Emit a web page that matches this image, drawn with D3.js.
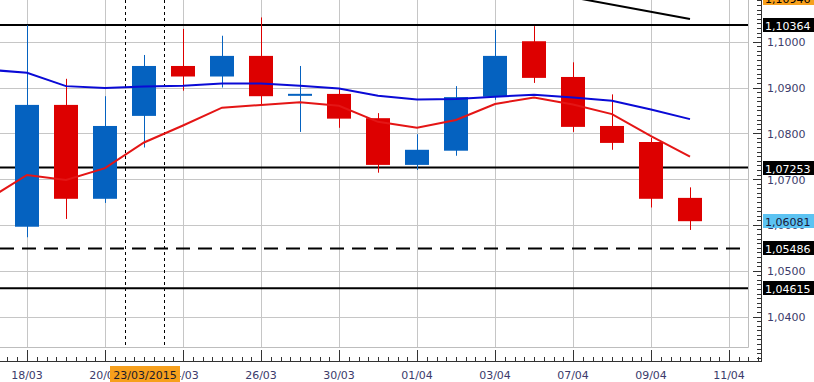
<!DOCTYPE html>
<html><head><meta charset="utf-8">
<script src="https://cdn.jsdelivr.net/npm/d3@7"></script>
<style>html,body{margin:0;padding:0;background:#fff;overflow:hidden}svg{display:block}</style>
</head><body>
<svg id="c" width="814" height="382"></svg>
<script>
// ---- data ----
const dates = ["18/03","19/03","20/03","23/03","24/03","25/03","26/03","27/03","30/03","31/03","01/04","02/04","03/04","06/04","07/04","08/04","09/04","10/04"];
const opens  = [1.0596,1.0862,1.0657,1.0838,1.0947,1.0924,1.0969,1.0884,1.0886,1.0833,1.0731,1.0762,1.0880,1.1001,1.0923,1.0816,1.0781,1.0659];
const highs  = [1.1036,1.0919,1.0881,1.0971,1.1028,1.1013,1.1053,1.0947,1.0899,1.0844,1.0798,1.0903,1.1026,1.1034,1.0955,1.0885,1.0790,1.0682];
const lows   = [1.0573,1.0613,1.0648,1.0769,1.0893,1.0900,1.0862,1.0803,1.0812,1.0714,1.0720,1.0751,1.0873,1.0910,1.0803,1.0764,1.0638,1.0589];
const closes = [1.0862,1.0657,1.0816,1.0947,1.0924,1.0969,1.0881,1.0884,1.0832,1.0731,1.0764,1.0879,1.0969,1.0921,1.0814,1.0779,1.0657,1.06081];
// moving averages (first value belongs to the bar before 18/03)
const maSlow = [1.0939,1.0932,1.0903,1.0899,1.0902,1.0904,1.0909,1.0909,1.0904,1.0898,1.0882,1.0874,1.0875,1.0880,1.0884,1.0878,1.0871,1.0852,1.0831];
const maFast = [1.0656,1.0709,1.0698,1.0724,1.0780,1.0817,1.0856,1.0862,1.0868,1.0860,1.0825,1.0812,1.0829,1.0864,1.0878,1.0863,1.0842,1.0794,1.0749];
const levelsSolid = [1.10364,1.07253,1.04615];
const levelsDashed = [1.05486];
const trendIdx = [13,17];
const trendVal = [1.11124,1.10496];
const yTicks = [1.10,1.09,1.08,1.07,1.06,1.05,1.04];
const yTickLabels = ["1,1000","1,0900","1,0800","1,0700","1,0600","1,0500","1,0400"];
const xTickIdx = [0,2,4,6,8,10,12,14,16,18];
const xTickLabels = ["18/03","20/03","24/03","26/03","30/03","01/04","03/04","07/04","09/04","11/04"];
const markerIdx = 3, markerLabel = "23/03/2015";
const priceTags = [
  {v:1.10946, t:"1,10946", bg:"#f7a01c", fg:"#000"},
  {v:1.10364, t:"1,10364", bg:"#000", fg:"#fff"},
  {v:1.07253, t:"1,07253", bg:"#000", fg:"#fff"},
  {v:1.06081, t:"1,06081", bg:"#5cc3f2", fg:"#1a1a3a"},
  {v:1.05486, t:"1,05486", bg:"#000", fg:"#fff"},
  {v:1.04615, t:"1,04615", bg:"#000", fg:"#fff"}
];

// ---- layout ----
const plotR = 748, plotB = 347, axisX = 761, axisY = 361;
const x = d3.scaleLinear().domain([0,18]).range([27,729]);
const y = d3.scaleLinear().domain([1.10,1.04]).range([41.7,316.5]);
const svg = d3.select("#c");
const font = "DejaVu Sans, Verdana, sans-serif";
const tickCol = "#3b3b6b";

svg.append("defs").append("clipPath").attr("id","clip")
  .append("rect").attr("x",0).attr("y",0).attr("width",plotR).attr("height",plotB);

const plot = svg.append("g").attr("clip-path","url(#clip)");

// grid
plot.selectAll(".hg").data(yTicks).join("line")
  .attr("x1",0).attr("x2",plotR).attr("y1",d=>Math.round(y(d))+0.5).attr("y2",d=>Math.round(y(d))+0.5)
  .attr("stroke","#c6c6c6").attr("stroke-width",1);
plot.selectAll(".vg").data(xTickIdx).join("line")
  .attr("x1",d=>Math.round(x(d))+0.5).attr("x2",d=>Math.round(x(d))+0.5).attr("y1",0).attr("y2",plotB)
  .attr("stroke","#c6c6c6").attr("stroke-width",1);

// marker dotted lines
plot.selectAll(".mk").data([markerIdx-0.5, markerIdx+0.5]).join("line")
  .attr("x1",d=>Math.round(x(d))+0.5).attr("x2",d=>Math.round(x(d))+0.5).attr("y1",0).attr("y2",plotB)
  .attr("stroke","#000").attr("stroke-width",1).attr("stroke-dasharray","3,3");

// level lines
plot.selectAll(".ls").data(levelsSolid).join("line")
  .attr("x1",0).attr("x2",plotR).attr("y1",d=>y(d)).attr("y2",d=>y(d))
  .attr("stroke","#000").attr("stroke-width",2);
plot.selectAll(".ld").data(levelsDashed).join("line")
  .attr("x1",0).attr("x2",plotR).attr("y1",d=>y(d)).attr("y2",d=>y(d))
  .attr("stroke","#000").attr("stroke-width",2).attr("stroke-dasharray","14,8");

// trend line
plot.append("path").datum(trendIdx.map((d,i)=>[d,trendVal[i]]))
  .attr("d", d3.line().x(d=>x(d[0])).y(d=>y(d[1])))
  .attr("fill","none").attr("stroke","#000").attr("stroke-width",2);

// candles
const bars = dates.map((d,i)=>({i,o:opens[i],h:highs[i],l:lows[i],c:closes[i]}));
const bw = 24;
const up = "#0562c0", dn = "#dd0000";
const cg = plot.selectAll(".cd").data(bars).join("g");
cg.append("line")
  .attr("x1",d=>Math.round(x(d.i))+0.5).attr("x2",d=>Math.round(x(d.i))+0.5)
  .attr("y1",d=>y(d.h)).attr("y2",d=>y(d.l))
  .attr("stroke",d=>d.c>=d.o?up:dn).attr("stroke-width",1);
cg.append("rect")
  .attr("x",d=>Math.round(x(d.i))-bw/2)
  .attr("width",bw)
  .attr("y",d=>{const t=y(Math.max(d.o,d.c)), b=y(Math.min(d.o,d.c)); return b-t<2 ? (t+b)/2-1 : t;})
  .attr("height",d=>Math.max(2, y(Math.min(d.o,d.c))-y(Math.max(d.o,d.c))))
  .attr("fill",d=>d.c>=d.o?up:dn);

// moving averages
const ml = d3.line().x((d,i)=>x(i-1)).y(d=>y(d));
plot.append("path").datum(maSlow).attr("d",ml).attr("fill","none").attr("stroke","#0a0ad6").attr("stroke-width",2);
plot.append("path").datum(maFast).attr("d",ml).attr("fill","none").attr("stroke","#e41515").attr("stroke-width",2);

// plot border (right & bottom)
svg.append("path").attr("d",`M${plotR+0.5},0V${plotB+0.5}H0`).attr("fill","none").attr("stroke","#bdbdbd").attr("stroke-width",1);

// ---- bottom axis ----
const minorX = d3.range(-0.5, 18.9, 0.25).filter(v=>x(v)>=0 && x(v)<=axisX);
svg.append("line").attr("x1",0).attr("x2",axisX+1).attr("y1",axisY+0.5).attr("y2",axisY+0.5).attr("stroke","#333").attr("stroke-width",1);
svg.selectAll(".mxt").data(minorX.filter(v=>Math.abs(v/2-Math.round(v/2))>1e-6)).join("line")
  .attr("x1",d=>Math.round(x(d))+0.5).attr("x2",d=>Math.round(x(d))+0.5).attr("y1",axisY-4).attr("y2",axisY)
  .attr("stroke","#333");
svg.selectAll(".Mxt").data(xTickIdx).join("line")
  .attr("x1",d=>Math.round(x(d))+0.5).attr("x2",d=>Math.round(x(d))+0.5).attr("y1",axisY-11).attr("y2",axisY)
  .attr("stroke","#333");
svg.selectAll(".xl").data(xTickIdx).join("text")
  .attr("x",d=>x(d)).attr("y",379).attr("text-anchor","middle")
  .attr("font-family",font).attr("font-size",11).attr("fill",tickCol)
  .text((d,i)=>xTickLabels[i]);
// marker date tag
const mt = svg.append("g");
mt.append("rect").attr("x",x(markerIdx)-34).attr("y",366).attr("width",70).attr("height",17).attr("fill","#f7a01c");
mt.append("text").attr("x",x(markerIdx)+1).attr("y",379).attr("text-anchor","middle")
  .attr("font-family",font).attr("font-size",11).attr("fill","#1a1a2a").text(markerLabel);

// ---- right axis ----
svg.append("line").attr("x1",axisX+0.5).attr("x2",axisX+0.5).attr("y1",0).attr("y2",axisY+1).attr("stroke","#333");
const minorY = d3.range(1.030, 1.112, 0.001).filter(v=>y(v)>=0 && y(v)<=axisY-2);
svg.selectAll(".myt").data(minorY).join("line")
  .attr("x1",axisX-4).attr("x2",axisX).attr("y1",d=>Math.round(y(d))+0.5).attr("y2",d=>Math.round(y(d))+0.5)
  .attr("stroke","#333");
svg.selectAll(".Myt").data(yTicks).join("line")
  .attr("x1",axisX-8).attr("x2",axisX).attr("y1",d=>Math.round(y(d))+0.5).attr("y2",d=>Math.round(y(d))+0.5)
  .attr("stroke","#333");
svg.selectAll(".yl").data(yTicks).join("text")
  .attr("x",767).attr("y",d=>y(d)+4.5)
  .attr("font-family",font).attr("font-size",11).attr("fill",tickCol)
  .text((d,i)=>yTickLabels[i]);

// price tags
const pt = svg.selectAll(".pt").data(priceTags).join("g");
pt.append("rect").attr("x",763).attr("y",d=>Math.round(y(d.v))-7).attr("width",51).attr("height",14).attr("fill",d=>d.bg);
pt.append("text").attr("x",765).attr("y",d=>Math.round(y(d.v))+4.5)
  .attr("font-family",font).attr("font-size",11).attr("fill",d=>d.fg).text(d=>d.t);
</script>
</body></html>
